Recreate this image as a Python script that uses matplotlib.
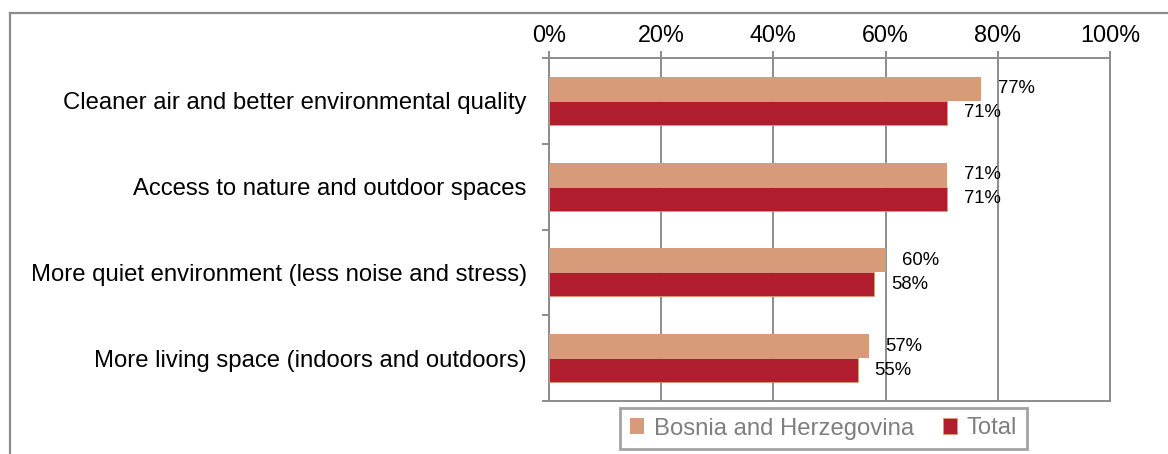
import numpy as np
import matplotlib
matplotlib.use("Agg")
import matplotlib.pyplot as plt
from matplotlib.lines import Line2D

plt.rcParams['font.family'] = ['Liberation Sans', 'DejaVu Sans']

# data
categories = ["Cleaner air and better environmental quality",
              "Access to nature and outdoor spaces",
              "More quiet environment (less noise and stress)",
              "More living space (indoors and outdoors)"]
bih = [77, 71, 60, 57]
total = [71, 71, 58, 55]
series_names = ["Bosnia and Herzegovina", "Total"]
xticks = [0, 20, 40, 60, 80, 100]

c_bih = "#d79b7a"
c_total = "#b01e2e"
grey = "#8c8c8c"

W, H = 1168, 454
fig = plt.figure(figsize=(W / 100, H / 100), dpi=100)
ax = fig.add_axes([549 / W, 1 - 401 / H, (1110 - 549) / W, (401 - 58) / H])

y = np.arange(len(categories))
h = 0.28
b1 = ax.barh(y - h / 2, bih, height=h, color=c_bih, label=series_names[0], zorder=3)
b2 = ax.barh(y + h / 2, total, height=h, color=c_total, edgecolor=c_bih, linewidth=0.6,
             label=series_names[1], zorder=3)

for bars, vals in ((b1, bih), (b2, total)):
    for rect, v in zip(bars, vals):
        ax.annotate(f"{v}%", (v, rect.get_y() + rect.get_height() / 2),
                    xytext=(12, 0), textcoords="offset points",
                    va="center", ha="left", fontsize=13.3, color="black")

ax.set_xlim(0, 100)
ax.set_ylim(len(categories) - 0.5, -0.5)
ax.xaxis.tick_top()
ax.set_xticks(xticks)
ax.set_xticklabels([f"{t}%" for t in xticks], fontsize=16.8)
ax.tick_params(axis="x", length=5, width=1.4, color=grey, pad=3)
ax.xaxis.grid(True, color=grey, linewidth=1.4, zorder=0)

ax.set_yticks(y)
ax.set_yticklabels(categories, fontsize=17.2)
ax.tick_params(axis="y", which="major", length=0, pad=16)
ax.set_yticks(np.arange(-0.5, len(categories)), minor=True)
ax.tick_params(axis="y", which="minor", length=5, width=1.4, color=grey)

for s in ax.spines.values():
    s.set_color(grey)
    s.set_linewidth(1.4)

leg = fig.legend(handles=[b1, b2], labels=series_names, loc="center",
                 bbox_to_anchor=(823.5 / W, 1 - 428.5 / H), ncol=2, fontsize=17.2,
                 frameon=True, fancybox=False, handlelength=0.6, handleheight=0.6,
                 handletextpad=0.4, columnspacing=1.2, borderpad=0.4, labelcolor="#7f7f7f")
leg.get_frame().set_edgecolor(grey)
leg.get_frame().set_linewidth(2)

# outer chart border (only left and top visible)
fig.add_artist(Line2D([10 / W, 10 / W], [0, 1 - 13 / H], transform=fig.transFigure,
                      color=grey, linewidth=1.6))
fig.add_artist(Line2D([10 / W, 1], [1 - 13 / H, 1 - 13 / H], transform=fig.transFigure,
                      color=grey, linewidth=1.6))

fig.savefig("out.png", dpi=100)
